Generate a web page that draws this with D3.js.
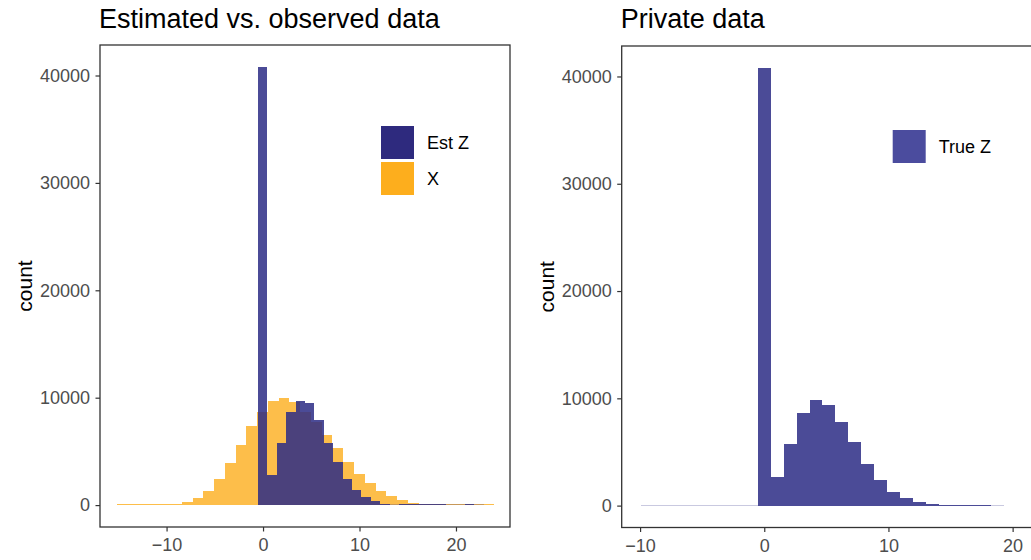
<!DOCTYPE html>
<html>
<head>
<meta charset="utf-8">
<script src="https://cdn.jsdelivr.net/npm/d3@7"></script>
<style>
  body { margin: 0; background: #fff; }
  svg { display: block; font-family: "Liberation Sans", Arial, Helvetica, sans-serif; }
  .tick text { fill: #4d4d4d; font-size: 18px; }
  .tick line { stroke: #333; stroke-width: 1.2px; }
</style>
</head>
<body>
<div id="chart"></div>
<script>
// histogram bins: first left edge, bin width, counts per bin
const xStart = -15.10, xWidth = 1.115;
const xCounts = [10, 15, 20, 40, 70, 120, 280, 650, 1300, 2400, 3900, 5570, 7330,
  8640, 9690, 10000, 9600, 8650, 7700, 6500, 5290, 3990, 2850, 2040, 1300, 800,
  430, 190, 120, 60, 30, 20, 10, 10, 5];

const estStart = -0.53, estWidth = 0.975;
const estCounts = [40800, 2800, 5760, 8640, 9690, 9530, 7890, 5760, 3990, 2410,
  1420, 710, 370, 120, 0, 30, 30, 25, 20, 15, 0, 0, 20, 0];

const trueStart = -9.90, trueWidth = 1.042;
const trueCounts = [0, 0, 0, 0, 0, 0, 0, 0, 0, 40800, 2700, 5750, 8640, 9840, 9380,
  7800, 5940, 3900, 2410, 1300, 740, 370, 190, 100, 50, 30, 20, 0];

const yTicks = [0, 10000, 20000, 30000, 40000];
const xTicks = [-10, 0, 10, 20];

const colEst = "#2b2b85", colX = "#fdae1d";

const width = 1031, height = 560;

function bins(start, w, counts) {
  return counts.map((n, i) => ({ x0: start + i * w, x1: start + (i + 1) * w, n: n }));
}

const svg = d3.select("#chart").append("svg")
  .attr("width", width).attr("height", height);

function panel(opts) {
  let x = d3.scaleLinear().domain(opts.xDomain).range([opts.left, opts.right]);
  let y = d3.scaleLinear().domain([-2040, 42840]).range([opts.bottom, opts.top]);

  let g = svg.append("g");

  let clip = "clip" + opts.id;
  g.append("clipPath").attr("id", clip).append("rect")
    .attr("x", opts.left).attr("y", opts.top)
    .attr("width", opts.right - opts.left).attr("height", opts.bottom - opts.top);

  let bars = g.append("g").attr("clip-path", `url(#${clip})`);

  opts.series.forEach(s => {
    bars.append("g").selectAll("rect")
      .data(s.data)
      .join("rect")
      .attr("x", d => x(d.x0))
      .attr("width", d => x(d.x1) - x(d.x0))
      .attr("y", d => Math.min(y(d.n), y(0) - 0.8))
      .attr("height", d => Math.max(y(0) - y(d.n), 0.8))
      .attr("fill", s.color)
      .attr("shape-rendering", "crispEdges")
      .attr("fill-opacity", d => d.n === 0 ? s.alpha * 0.3 : s.alpha);
  });

  // axes
  g.append("g")
    .attr("transform", `translate(${opts.left},0)`)
    .call(d3.axisLeft(y).tickValues(yTicks).tickSize(4.5).tickPadding(5.5)
      .tickFormat(d3.format("d")))
    .call(a => a.select(".domain").remove());

  g.append("g")
    .attr("transform", `translate(0,${opts.bottom})`)
    .call(d3.axisBottom(x).tickValues(xTicks).tickSize(4.5).tickPadding(7)
      .tickFormat(d => d < 0 ? "\u2212" + Math.abs(d) : d))
    .call(a => a.select(".domain").remove());

  // panel border
  g.append("rect")
    .attr("x", opts.left).attr("y", opts.top)
    .attr("width", opts.right - opts.left).attr("height", opts.bottom - opts.top)
    .attr("fill", "none").attr("stroke", "#333").attr("stroke-width", 1.3);

  // title
  g.append("text")
    .attr("x", opts.left - 1).attr("y", 28)
    .attr("font-size", 27).attr("fill", "#000")
    .text(opts.title);

  // y label
  g.append("text")
    .attr("transform", `translate(${opts.labelX},${(opts.top + opts.bottom) / 2}) rotate(-90)`)
    .attr("text-anchor", "middle")
    .attr("font-size", 21).attr("fill", "#000")
    .text("count");

  // legend
  let lg = g.append("g").attr("transform", `translate(${opts.legend[0]},${opts.legend[1]})`);
  opts.keys.forEach((k, i) => {
    lg.append("rect")
      .attr("x", 0).attr("y", i * 36)
      .attr("width", 33).attr("height", 33)
      .attr("fill", k.color);
    lg.append("text")
      .attr("x", 46).attr("y", i * 36 + 16.5)
      .attr("dy", "0.36em")
      .attr("font-size", 18).attr("fill", "#000")
      .text(k.label);
  });
}

panel({
  id: "L", left: 100, right: 510, top: 45, bottom: 527,
  xDomain: [-16.9, 25.6],
  title: "Estimated vs. observed data", labelX: 32,
  series: [
    { data: bins(xStart, xWidth, xCounts), color: colX, alpha: 0.8 },
    { data: bins(estStart, estWidth, estCounts), color: colEst, alpha: 0.85 }
  ],
  legend: [381, 126],
  keys: [{ label: "Est Z", color: "#2e2a7e" }, { label: "X", color: colX }]
});

panel({
  id: "R", left: 621.7, right: 1032, top: 46, bottom: 527.5,
  xDomain: [-11.48, 21.56],
  title: "Private data", labelX: 554,
  series: [
    { data: bins(trueStart, trueWidth, trueCounts), color: colEst, alpha: 0.85 }
  ],
  legend: [892.7, 130],
  keys: [{ label: "True Z", color: "#4b4c9e" }]
});
</script>
</body>
</html>
